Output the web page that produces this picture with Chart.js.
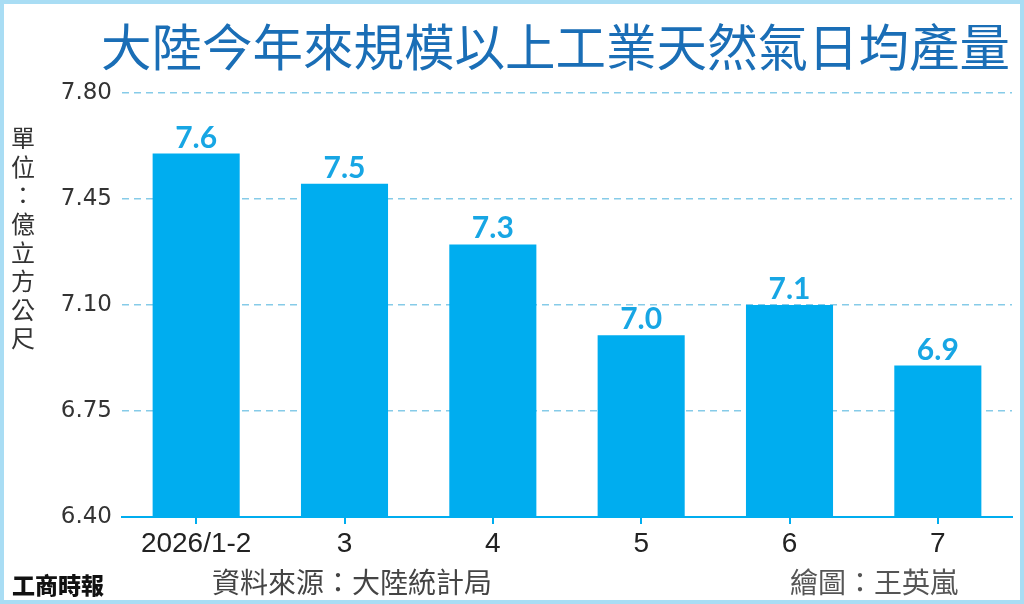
<!DOCTYPE html>
<html>
<head>
<meta charset="utf-8">
<title>大陸今年來規模以上工業天然氣日均產量</title>
<script src="https://cdn.jsdelivr.net/npm/chart.js@4/dist/chart.umd.min.js"></script>
<style>
html, body { margin: 0; padding: 0; background: #fff; }
#wrap { width: 1024px; height: 604px; position: relative; }
</style>
</head>
<body>
<div id="wrap"><canvas id="gasChart"></canvas></div>
<script>
// data
var months = ["2026/1-2", "3", "4", "5", "6", "7"]
var dailyOutput = [7.6, 7.5, 7.3, 7.0, 7.1, 6.9]
var yTicks = [6.40, 6.75, 7.10, 7.45, 7.80]

var titleText = "大陸今年來規模以上工業天然氣日均產量"
var unitText = "單位：億立方公尺"
var sourceText = "資料來源：大陸統計局"
var creditText = "繪圖：王英嵐"
var logoText = "工商時報"

var barColor = "#00adef"
var labelColor = "#17a6e4"
var cjk = "'Noto Sans CJK TC', 'Noto Sans CJK SC', sans-serif"

// value labels above each bar
var valueLabels = {
	id: "valueLabels",
	afterDatasetsDraw: function (chart) {
		var ctx = chart.ctx
		var meta = chart.getDatasetMeta(0)
		ctx.save()
		ctx.font = "bold 30px Lato, 'DejaVu Sans', sans-serif"
		ctx.fillStyle = labelColor
		ctx.textAlign = "center"
		ctx.textBaseline = "alphabetic"
		meta.data.forEach(function (bar, i) {
			ctx.fillText(dailyOutput[i].toFixed(1), bar.x, bar.y - 6)
		})
		ctx.restore()
	}
}

// title, unit, footer and frame
var decorations = {
	id: "decorations",
	beforeDraw: function (chart) {
		var ctx = chart.ctx
		ctx.save()
		ctx.fillStyle = "#fff"
		ctx.fillRect(0, 0, chart.width, chart.height)
		ctx.restore()
	},
	afterDraw: function (chart) {
		var ctx = chart.ctx
		ctx.save()

		ctx.font = "400 50.5px " + cjk
		ctx.fillStyle = "#1a6eb6"
		ctx.textAlign = "right"
		ctx.textBaseline = "middle"
		ctx.fillText(titleText, 1010, 47)

		ctx.font = "24px " + cjk
		ctx.fillStyle = "#333"
		ctx.textAlign = "center"
		for (var i = 0; i < unitText.length; i++) {
			ctx.fillText(unitText[i], 23, 138 + i * 28.6)
		}

		ctx.font = "28px " + cjk
		ctx.fillStyle = "#444"
		ctx.textAlign = "left"
		ctx.fillText(sourceText, 212, 582)
		ctx.fillStyle = "#555"
		ctx.fillText(creditText, 790, 582)

		ctx.font = "900 23px " + cjk
		ctx.fillStyle = "#111"
		ctx.fillText(logoText, 12, 585)

		ctx.strokeStyle = "#a9ddf4"
		ctx.lineWidth = 4
		ctx.strokeRect(2, 2, chart.width - 4, chart.height - 4)
		ctx.restore()
	}
}

new Chart("gasChart", {
	type: "bar",
	data: {
		labels: months,
		datasets: [{
			data: dailyOutput,
			backgroundColor: barColor,
			categoryPercentage: 1,
			barPercentage: 0.587
		}]
	},
	options: {
		responsive: true,
		maintainAspectRatio: false,
		animation: false,
		layout: {
			padding: { top: 93, right: 12, left: 0, bottom: 0 }
		},
		plugins: {
			legend: { display: false },
			title: { display: false },
			tooltip: { enabled: false }
		},
		scales: {
			x: {
				grid: {
					display: true,
					drawOnChartArea: false,
					drawTicks: true,
					tickLength: 7,
					offset: false,
					color: barColor,
					lineWidth: 2
				},
				border: { display: true, color: barColor, width: 2 },
				ticks: {
					color: "#222",
					font: { family: "'Liberation Sans', sans-serif", size: 28 },
					padding: 3
				},
				afterFit: function (scale) { scale.height = 87 }
			},
			y: {
				min: 6.4,
				max: 7.8,
				afterBuildTicks: function (scale) {
					scale.ticks = yTicks.map(function (v) { return { value: v } })
				},
				grid: {
					drawTicks: false,
					lineWidth: 1.5,
					color: function (ctx) {
						return ctx.tick && ctx.tick.value === 6.4 ? "rgba(0,0,0,0)" : "#86cbe8"
					}
				},
				border: { display: false, dash: [7, 5] },
				ticks: {
					color: "#333",
					font: { family: "'DejaVu Sans', sans-serif", size: 23 },
					padding: 10,
					callback: function (v) { return Number(v).toFixed(2) }
				},
				afterFit: function (scale) { scale.width = 122 }
			}
		}
	},
	plugins: [valueLabels, decorations]
})
</script>
</body>
</html>
